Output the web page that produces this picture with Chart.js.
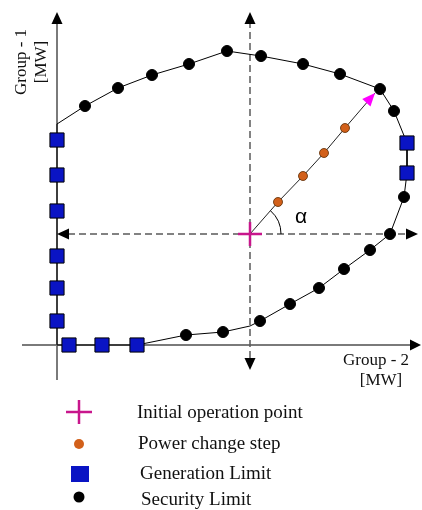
<!DOCTYPE html>
<html>
<head>
<meta charset="utf-8">
<script src="https://cdn.jsdelivr.net/npm/chart.js@4"></script>
<style>
  html, body { margin: 0; padding: 0; background: #fff; }
  #wrap { width: 422px; height: 510px; position: relative; }
</style>
</head>
<body>
<div id="wrap"><canvas id="regionChart"></canvas></div>
<script>
// Group-2 (x) / Group-1 (y) power plane, values in MW
const operationPoint = [19.3, 11.1];
const powerSteps = [[22.1, 14.3], [24.6, 16.9], [26.7, 19.2], [28.8, 21.7]];
const stepTarget = [31.8, 25.2];

const securityLimit = [
  [2.8, 23.9], [6.1, 25.7], [9.5, 27.0], [13.2, 28.1], [17.0, 29.4],
  [20.4, 28.9], [24.6, 28.1], [28.3, 27.1], [32.3, 25.6], [33.7, 23.4],
  [34.7, 14.8], [33.3, 11.1],
  [31.3, 9.5], [28.7, 7.6], [26.2, 5.7], [23.3, 4.1], [20.3, 2.4],
  [16.6, 1.3], [12.9, 1.0]
];

const generationLimit = [
  [35.0, 20.2], [35.0, 17.2],
  [8.0, 0], [4.5, 0], [1.2, 0],
  [0, 2.4], [0, 5.7], [0, 8.9], [0, 13.4], [0, 17.0], [0, 20.5]
];

// closed contour of the operating region
const boundary = [
  [0, 22.1], [2.8, 23.9], [6.1, 25.7], [9.5, 27.0], [13.2, 28.1], [17.0, 29.4],
  [20.4, 28.9], [24.6, 28.1], [28.3, 27.1], [32.3, 25.6], [33.7, 23.4],
  [35.0, 20.2], [35.0, 17.2], [34.7, 14.8], [33.3, 11.1],
  [31.3, 9.5], [28.7, 7.6], [26.2, 5.7], [23.3, 4.1], [20.3, 2.4],
  [19.3, 1.9], [16.6, 1.3], [12.9, 1.0],
  [8.0, 0], [4.5, 0], [1.2, 0], [0, 0],
  [0, 2.4], [0, 5.7], [0, 8.9], [0, 13.4], [0, 17.0], [0, 20.5], [0, 22.1]
];

const legendLabels = ['Initial operation point', 'Power change step', 'Generation Limit', 'Security Limit'];

const toXY = arr => arr.map(p => ({ x: p[0], y: p[1] }));

function arrowHead(ctx, x0, y0, x1, y1, len, half, color) {
  const a = Math.atan2(y1 - y0, x1 - x0);
  ctx.save();
  ctx.translate(x1, y1);
  ctx.rotate(a);
  ctx.beginPath();
  ctx.moveTo(0, 0);
  ctx.lineTo(-len, -half);
  ctx.lineTo(-len, half);
  ctx.closePath();
  ctx.fillStyle = color;
  ctx.fill();
  ctx.restore();
}

function line(ctx, x0, y0, x1, y1) {
  ctx.beginPath();
  ctx.moveTo(x0, y0);
  ctx.lineTo(x1, y1);
  ctx.stroke();
}

const diagramPlugin = {
  id: 'diagram',
  beforeDatasetsDraw(chart) {
    const ctx = chart.ctx;
    const sx = v => chart.scales.x.getPixelForValue(v);
    const sy = v => chart.scales.y.getPixelForValue(v);
    const ox = sx(0), oy = sy(0);
    const cx = sx(operationPoint[0]), cy = sy(operationPoint[1]);
    ctx.save();

    // solid axes
    ctx.strokeStyle = '#7a7a7a';
    ctx.lineWidth = 2;
    line(ctx, ox, sy(-3.5), ox, sy(33.3) + 11);
    line(ctx, sx(-3.5), oy, sx(36.4) - 11, oy);
    arrowHead(ctx, ox, oy, ox, sy(33.3), 12, 5.5, '#000');
    arrowHead(ctx, ox, oy, sx(36.4), oy, 11, 5.5, '#000');

    // dashed guides through the operating point
    ctx.strokeStyle = '#5a5a5a';
    ctx.lineWidth = 1.5;
    ctx.setLineDash([7, 4]);
    line(ctx, cx, sy(-2.5) - 12, cx, sy(33.3) + 11);
    line(ctx, sx(0) + 11, cy, sx(36.1) - 11, cy);
    ctx.setLineDash([]);
    arrowHead(ctx, cx, cy, cx, sy(33.3), 12, 5.5, '#000');
    arrowHead(ctx, cx, cy, cx, sy(-2.5), 12, 5.5, '#000');
    arrowHead(ctx, cx, cy, sx(0), cy, 12, 5.5, '#000');
    arrowHead(ctx, cx, cy, sx(36.1), cy, 12, 5.5, '#000');

    // angle alpha
    const tx = sx(stepTarget[0]), ty = sy(stepTarget[1]);
    const ang = Math.atan2(ty - cy, tx - cx);
    ctx.strokeStyle = '#000';
    ctx.lineWidth = 1;
    ctx.beginPath();
    ctx.arc(cx, cy, 31, ang, 0);
    ctx.stroke();
    ctx.fillStyle = '#000';
    ctx.font = '21px "Liberation Sans"';
    ctx.textAlign = 'center';
    ctx.textBaseline = 'middle';
    ctx.fillText('α', cx + 51, cy - 17);
    ctx.restore();
  },
  afterDatasetsDraw(chart) {
    const ctx = chart.ctx;
    const sx = v => chart.scales.x.getPixelForValue(v);
    const sy = v => chart.scales.y.getPixelForValue(v);
    const cx = sx(operationPoint[0]), cy = sy(operationPoint[1]);
    ctx.save();
    arrowHead(ctx, cx, cy, sx(stepTarget[0]), sy(stepTarget[1]), 13, 5.5, '#ff00ff');

    // axis titles
    ctx.fillStyle = '#111';
    ctx.font = '17px "Liberation Serif"';
    ctx.textAlign = 'center';
    ctx.textBaseline = 'middle';
    ctx.save();
    ctx.translate(22, 62);
    ctx.rotate(-Math.PI / 2);
    ctx.fillText('Group - 1', 0, 0);
    ctx.restore();
    ctx.save();
    ctx.translate(42, 62);
    ctx.rotate(-Math.PI / 2);
    ctx.fillText('[MW]', 0, 0);
    ctx.restore();
    ctx.fillText('Group - 2', 376, 361);
    ctx.fillText('[MW]', 381, 381);

    // legend
    ctx.strokeStyle = '#c8168c';
    ctx.lineWidth = 2.5;
    line(ctx, 66, 412, 92, 412);
    line(ctx, 79, 400, 79, 424);
    ctx.fillStyle = '#d2601a';
    ctx.beginPath(); ctx.arc(79, 444, 5, 0, Math.PI * 2); ctx.fill();
    ctx.fillStyle = '#0a14c4';
    ctx.fillRect(71, 466, 18, 16);
    ctx.fillStyle = '#000';
    ctx.beginPath(); ctx.arc(79, 497, 5.5, 0, Math.PI * 2); ctx.fill();

    ctx.fillStyle = '#111';
    ctx.font = '19px "Liberation Serif"';
    ctx.textAlign = 'left';
    ctx.textBaseline = 'alphabetic';
    ctx.fillText(legendLabels[0], 137, 418);
    ctx.fillText(legendLabels[1], 138, 449);
    ctx.fillText(legendLabels[2], 140, 479);
    ctx.fillText(legendLabels[3], 141, 505);
    ctx.restore();
  }
};

new Chart(document.getElementById('regionChart'), {
  type: 'scatter',
  data: {
    datasets: [
      {
        label: 'Initial operation point',
        data: toXY([operationPoint]),
        pointStyle: 'cross',
        pointRadius: 12,
        borderColor: '#c8168c',
        pointBorderWidth: 2.5,
        order: 0
      },
      {
        label: 'Power change step',
        data: toXY(powerSteps),
        pointRadius: 4.5,
        backgroundColor: '#d2601a',
        borderColor: '#5a2a00',
        pointBorderWidth: 0.8,
        order: 1
      },
      {
        label: 'Security Limit',
        data: toXY(securityLimit),
        pointRadius: 5.5,
        backgroundColor: '#000',
        borderColor: '#000',
        order: 2
      },
      {
        label: 'Generation Limit',
        data: toXY(generationLimit),
        pointStyle: 'rect',
        pointRadius: 10,
        backgroundColor: '#0a14c4',
        borderColor: '#000',
        pointBorderWidth: 1,
        order: 3
      },
      {
        label: 'direction',
        data: toXY([operationPoint, ...powerSteps, stepTarget]),
        showLine: true,
        pointRadius: 0,
        borderColor: '#222',
        borderWidth: 1,
        order: 4
      },
      {
        label: 'boundary',
        data: toXY(boundary),
        showLine: true,
        pointRadius: 0,
        borderColor: '#000',
        borderWidth: 1,
        order: 5
      }
    ]
  },
  options: {
    responsive: true,
    maintainAspectRatio: false,
    animation: false,
    layout: { padding: 0, autoPadding: false },
    scales: {
      x: { type: 'linear', min: -5.7, max: 36.5, display: false },
      y: { type: 'linear', min: -16.5, max: 34.5, display: false }
    },
    plugins: {
      legend: { display: false },
      tooltip: { enabled: false }
    }
  },
  plugins: [diagramPlugin]
});
</script>
</body>
</html>
